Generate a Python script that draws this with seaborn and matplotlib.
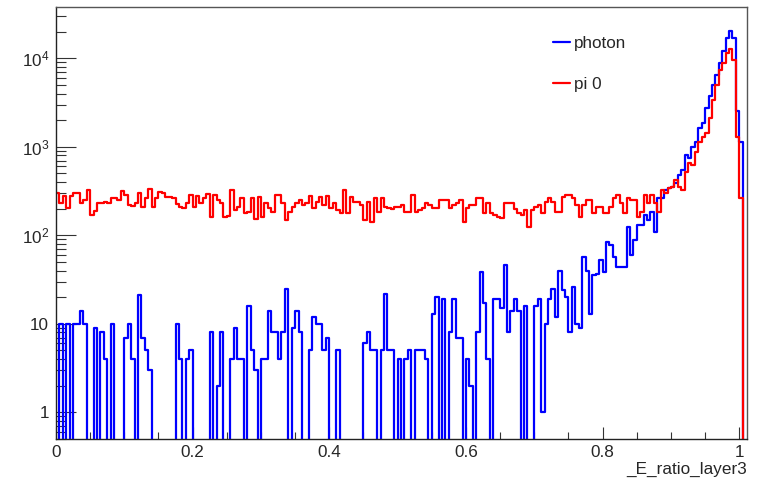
import numpy as np
import pandas as pd
import matplotlib
matplotlib.use("Agg")
import matplotlib.pyplot as plt
import seaborn as sns
from matplotlib.ticker import FixedLocator, FixedFormatter, LogLocator, NullFormatter

# ---------------- data ----------------
bin_width = 0.005
n_bins = 202
x_tick_values = [0, 0.2, 0.4, 0.6, 0.8, 1.0]
x_tick_labels = ["0", "0.2", "0.4", "0.6", "0.8", "1"]
y_tick_values = [1, 10, 100, 1000, 10000]
y_tick_labels = ["1", "10", r"$\mathregular{10^{2}}$", r"$\mathregular{10^{3}}$", r"$\mathregular{10^{4}}$"]
series_names = ["photon", "pi 0"]

photon = [0, 10, 0, 10, 0, 10, 10, 14, 10, 0,
          0, 9, 0, 8, 4, 0, 10, 0, 0, 0,
          7, 10, 4, 0, 21, 7, 5, 3, 0, 0,
          0, 0, 0, 0, 0, 10, 4, 0, 4, 5,
          0, 0, 0, 0, 0, 8, 0, 2, 8, 0,
          0, 4, 9, 4, 4, 0, 16, 5, 3, 0,
          4, 4, 14, 8, 8, 4, 8, 25, 0, 9,
          14, 8, 0, 0, 5, 12, 10, 10, 5, 7,
          0, 0, 5, 0, 0, 0, 0, 0, 0, 0,
          6, 8, 5, 5, 0, 5, 22, 5, 5, 0,
          4, 0, 4, 5, 0, 5, 5, 5, 4, 0,
          13, 20, 0, 19, 0, 8, 19, 7, 7, 0,
          4, 2, 0, 8, 39, 17, 4, 0, 19, 19,
          15, 46, 8, 14, 19, 14, 0, 16, 0, 0,
          16, 19, 1, 10, 19, 25, 12, 40, 24, 20,
          8, 26, 10, 9, 57, 40, 13, 36, 37, 53,
          39, 85, 78, 57, 44, 44, 44, 125, 60, 88,
          131, 131, 170, 149, 185, 110, 262, 262, 325, 340,
          354, 387, 480, 547, 808, 741, 1002, 1142, 1618, 1845,
          2723, 3750, 4990, 6500, 8800, 12000, 17000, 20200, 17000, 2550,
          1142, 0]

pi0 = [303, 230, 278, 202, 278, 303, 298, 230, 251, 325,
       170, 190, 230, 234, 240, 230, 262, 262, 251, 319,
       285, 220, 214, 230, 303, 210, 262, 331, 210, 262,
       311, 303, 273, 273, 262, 226, 210, 202, 230, 285,
       210, 278, 230, 262, 291, 163, 285, 251, 230, 163,
       165, 325, 193, 210, 262, 177, 185, 262, 152, 268,
       163, 230, 202, 185, 285, 285, 230, 149, 185, 210,
       234, 251, 220, 230, 278, 206, 240, 273, 220, 278,
       206, 230, 193, 177, 325, 177, 273, 240, 240, 220,
       149, 240, 143, 262, 185, 262, 210, 202, 197, 210,
       210, 220, 185, 185, 285, 185, 193, 202, 230, 220,
       202, 202, 251, 251, 251, 202, 220, 230, 251, 143,
       202, 220, 220, 262, 262, 177, 230, 177, 170, 163,
       156, 230, 234, 230, 198, 177, 170, 193, 125, 193,
       210, 220, 177, 240, 262, 240, 185, 185, 273, 285,
       285, 262, 220, 163, 220, 251, 251, 177, 210, 210,
       177, 177, 210, 262, 285, 230, 177, 262, 251, 251,
       162, 185, 285, 230, 285, 230, 185, 325, 298, 340,
       354, 422, 354, 325, 524, 650, 623, 881, 1142, 1300,
       1420, 2100, 3380, 4990, 7380, 8790, 11400, 12620, 9570, 1300,
       262, 0]

x_lo = 0.0
x_hi = n_bins * bin_width
centers = x_lo + (np.arange(n_bins) + 0.5) * bin_width
df = pd.DataFrame({"x": centers, "photon": photon, "pi0": pi0})

# ---------------- style ----------------
sns.set_style("white")
plt.rcParams["font.family"] = ["Liberation Sans", "DejaVu Sans"]
plt.rcParams["mathtext.fontset"] = "custom"
plt.rcParams["mathtext.rm"] = "Liberation Sans"
plt.rcParams["mathtext.it"] = "Liberation Sans:italic"
plt.rcParams["mathtext.bf"] = "Liberation Sans:bold"

W, H = 761, 479
fig = plt.figure(figsize=(W / 100, H / 100), dpi=100)
ax = fig.add_axes([56 / W, 40 / H, 690.7 / W, 432.3 / H])

sns.histplot(data=df, x="x", weights="photon", bins=n_bins, binrange=(x_lo, x_hi),
             element="step", fill=False, color="#0000ff", linewidth=1.6,
             label=series_names[0], ax=ax)
sns.histplot(data=df, x="x", weights="pi0", bins=n_bins, binrange=(x_lo, x_hi),
             element="step", fill=False, color="#ff0000", linewidth=1.6,
             label=series_names[1], ax=ax)

ax.set_yscale("log")
ax.set_xlim(0, 1.0108)
ax.set_ylim(0.5, 3.83e4)

fs = 12.3
ax.xaxis.set_major_locator(FixedLocator(x_tick_values))
ax.xaxis.set_major_formatter(FixedFormatter(x_tick_labels))
ax.xaxis.set_minor_locator(FixedLocator(np.arange(0, 1.0101, 0.05)))
ax.yaxis.set_major_locator(FixedLocator(y_tick_values))
ax.yaxis.set_major_formatter(FixedFormatter(y_tick_labels))
ax.yaxis.set_minor_locator(LogLocator(base=10, subs=np.arange(2, 10), numticks=20))
ax.yaxis.set_minor_formatter(NullFormatter())

ax.tick_params(axis="x", which="major", direction="in", length=8.6, width=0.8,
               color="#333333", pad=4, labelsize=fs, bottom=True, top=False)
ax.tick_params(axis="x", which="minor", direction="in", length=5, width=0.8,
               color="#333333", bottom=True, top=False)
ax.tick_params(axis="y", which="major", direction="in", length=14.5, width=0.8,
               color="#333333", pad=5, labelsize=fs, left=True, right=False)
ax.tick_params(axis="y", which="minor", direction="in", length=7.2, width=0.8,
               color="#333333", left=True, right=False)

for side in ["left", "bottom"]:
    ax.spines[side].set_color("#222222")
    ax.spines[side].set_linewidth(1.0)
for side in ["top", "right"]:
    ax.spines[side].set_color("#555555")
    ax.spines[side].set_linewidth(1.0)

ax.set_ylabel("")
ax.set_xlabel("_E_ratio_layer3", loc="right", fontsize=fs, labelpad=2)

ax.legend(loc="upper left", bbox_to_anchor=(0.7196, 0.933), frameon=False,
          fontsize=fs, handlelength=1.0, handletextpad=0.2, labelspacing=1.55,
          borderpad=0, borderaxespad=0)

fig.savefig("out.png", dpi=100)
